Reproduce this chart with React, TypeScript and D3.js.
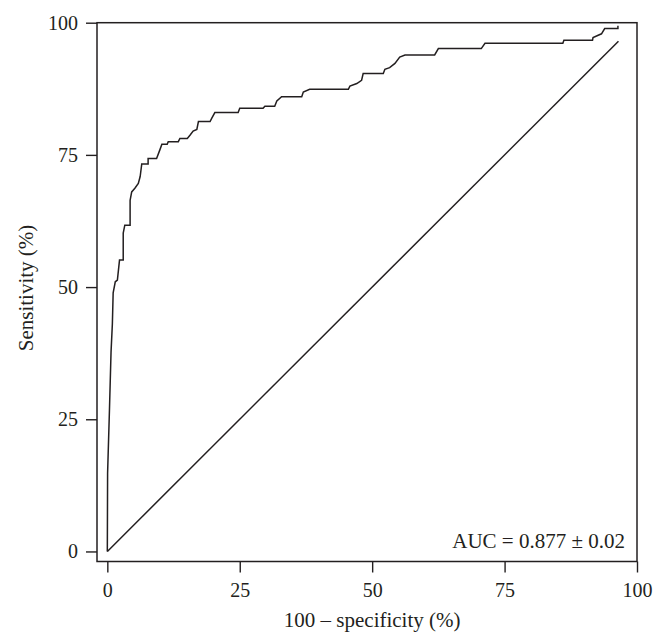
import React, { useRef, useEffect } from 'react';
import * as d3 from 'd3';

// ROC curve points (100 - specificity, sensitivity)
const fpr = [
  0, 0.05, 0.4, 0.7, 0.95, 1.1, 1.5, 1.9, 2.3, 3.0, 3.0, 3.3, 4.3, 4.3, 4.6, 5.2, 5.85, 6.2, 6.5, 7.7,
  7.7, 9.3, 9.9, 10.3, 11.3, 11.5, 13.4, 13.7, 15.1, 15.6, 16.2, 16.9, 17.2, 19.4, 19.7, 20.3, 24.7,
  25.0, 29.4, 29.75, 31.6, 32.0, 32.9, 36.7, 37.0, 38.2, 45.5, 45.8, 47.1, 48.0, 48.3, 52.1, 52.4,
  53.3, 54.3, 55.2, 56.2, 61.8, 62.5, 70.6, 71.3, 86.0, 86.2, 91.6, 91.7, 93.3, 93.9, 96.4, 96.4,
];
const tpr = [
  0, 14.8, 26.7, 37.7, 43.0, 48.9, 51.0, 51.3, 55.1, 55.1, 60.2, 61.7, 61.7, 66.4, 68.0, 68.7, 69.6,
  70.9, 73.3, 73.3, 74.3, 74.3, 75.9, 77.0, 77.0, 77.5, 77.5, 78.1, 78.1, 78.7, 79.5, 79.8, 81.3,
  81.3, 81.9, 83.0, 83.0, 83.8, 83.8, 84.2, 84.2, 85.2, 86.0, 86.0, 86.9, 87.4, 87.4, 88.0, 88.5,
  89.1, 90.4, 90.4, 91.2, 91.5, 92.3, 93.5, 93.9, 93.9, 95.1, 95.1, 96.1, 96.1, 96.7, 96.7, 97.2,
  97.9, 98.9, 98.9, 99.4,
];
// chance line ends
const diagX = [0, 96.5];
const diagY = [0, 96.5];
const xTicks = [0, 25, 50, 75, 100];
const yTicks = [0, 25, 50, 75, 100];
const aucLabel = 'AUC = 0.877 \u00b1 0.02';

const App = () => {
  const svgRef = useRef<SVGSVGElement>(null);

  useEffect(() => {
    const svg = d3.select(svgRef.current);
    svg.selectAll('*').remove();

    const width = 665;
    const height = 644;
    const box = { left: 97, right: 637, top: 22.7, bottom: 561.5 };
    const ink = '#231f20';
    const font = '"Liberation Serif", "Times New Roman", serif';

    const x = d3.scaleLinear().domain([-1.95, 100]).range([box.left, box.right]);
    const y = d3.scaleLinear().domain([-1.9, 100]).range([box.bottom, box.top]);

    svg.attr('width', width).attr('height', height);

    // y axis
    const gy = svg
      .append('g')
      .attr('transform', `translate(${box.left}, 0)`)
      .call(d3.axisLeft(y).tickValues(yTicks).tickSize(11).tickSizeOuter(0).tickPadding(8));
    gy.select('.domain').remove();
    gy.selectAll('line').attr('stroke', ink).attr('stroke-width', 1.4);
    gy.selectAll('text').attr('font-family', font).attr('font-size', 20).attr('fill', ink);

    // x axis
    const gx = svg
      .append('g')
      .attr('transform', `translate(0, ${box.bottom})`)
      .call(d3.axisBottom(x).tickValues(xTicks).tickSize(11).tickSizeOuter(0).tickPadding(10));
    gx.select('.domain').remove();
    gx.selectAll('line').attr('stroke', ink).attr('stroke-width', 1.4);
    gx.selectAll('text').attr('font-family', font).attr('font-size', 20).attr('fill', ink);

    // plot frame
    svg
      .append('rect')
      .attr('x', box.left)
      .attr('y', box.top)
      .attr('width', box.right - box.left)
      .attr('height', box.bottom - box.top)
      .attr('fill', 'none')
      .attr('stroke', ink)
      .attr('stroke-width', 1.5);

    const line = d3
      .line<number>()
      .x(i => x(fpr[i]))
      .y(i => y(tpr[i]));

    // diagonal reference
    svg
      .append('line')
      .attr('x1', x(diagX[0]))
      .attr('y1', y(diagY[0]))
      .attr('x2', x(diagX[1]))
      .attr('y2', y(diagY[1]))
      .attr('stroke', ink)
      .attr('stroke-width', 1.5);

    // ROC curve
    svg
      .append('path')
      .datum(d3.range(fpr.length))
      .attr('d', line)
      .attr('fill', 'none')
      .attr('stroke', ink)
      .attr('stroke-width', 1.5)
      .attr('stroke-linejoin', 'miter');

    // AUC note
    svg
      .append('text')
      .attr('x', 625)
      .attr('y', 548)
      .attr('text-anchor', 'end')
      .attr('font-family', font)
      .attr('font-size', 21)
      .attr('fill', ink)
      .text(aucLabel);

    // axis titles
    svg
      .append('text')
      .attr('x', x(50))
      .attr('y', 627)
      .attr('text-anchor', 'middle')
      .attr('font-family', font)
      .attr('font-size', 21)
      .attr('fill', ink)
      .text('100 \u2013 specificity (%)');

    svg
      .append('text')
      .attr('transform', `translate(33, 288) rotate(-90)`)
      .attr('text-anchor', 'middle')
      .attr('font-family', font)
      .attr('font-size', 21)
      .attr('fill', ink)
      .text('Sensitivity (%)');
  }, []);

  return (
    <div style={{ position: 'absolute', left: 0, top: 0, background: '#fff' }}>
      <svg ref={svgRef} style={{ display: 'block' }} />
    </div>
  );
};

export default App;
